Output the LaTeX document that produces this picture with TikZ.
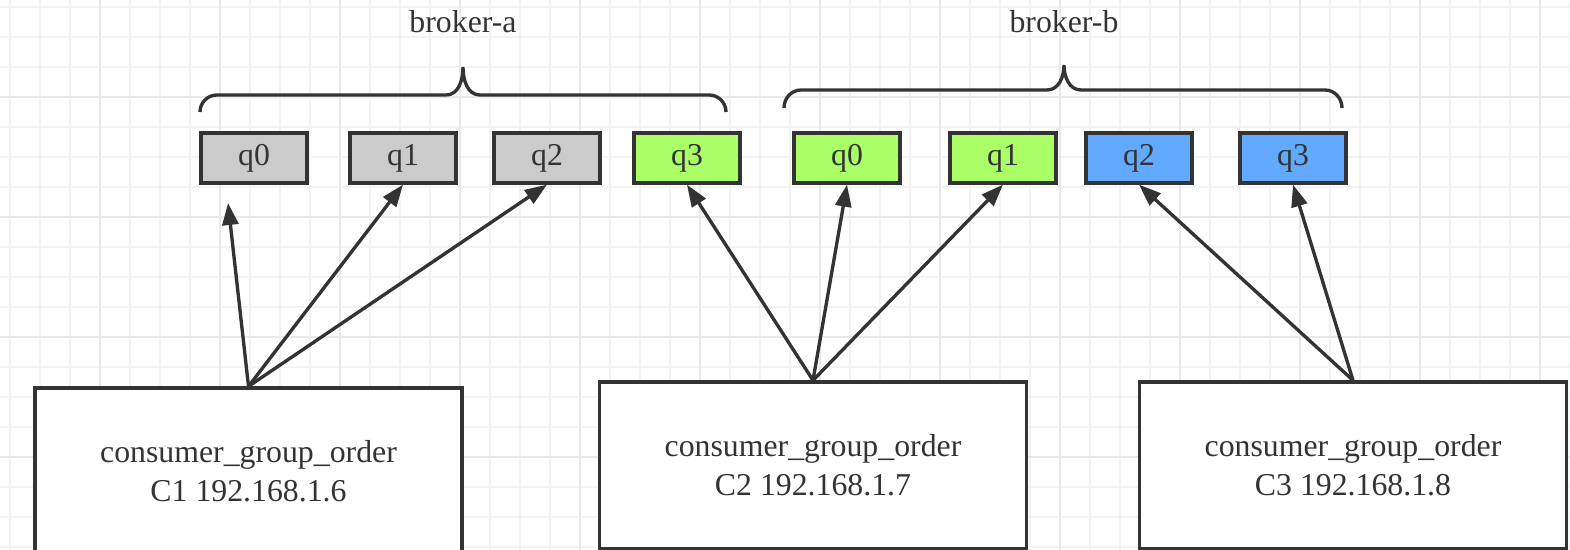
\documentclass[tikz,border=0pt]{standalone}
\usepackage{fontspec}
\setmainfont{Liberation Serif}
\usetikzlibrary{positioning, arrows.meta}

\definecolor{linegray}{HTML}{333333}
\definecolor{qgray}{HTML}{CBCBCB}
\definecolor{qgreen}{HTML}{AAFF66}
\definecolor{qblue}{HTML}{62AAFF}
\definecolor{gridminor}{HTML}{F3F3F3}
\definecolor{gridmajor}{HTML}{E8E8E8}

\newcommand{\diagfont}{\fontsize{18.1}{22}\selectfont}

\begin{document}
\begin{tikzpicture}[x=0.02cm, y=-0.02cm,
    queue/.style={rectangle, draw=linegray, line width=1.9pt, minimum width=2.12cm,
                  minimum height=1cm, inner sep=0pt, font=\diagfont, text=linegray},
    consumer/.style={rectangle, draw=linegray, fill=white, line width=1.9pt, minimum width=8.54cm,
                     minimum height=3.34cm, align=center, font=\diagfont, text=linegray},
    arrow/.style={-{Triangle[length=0.44cm, width=0.32cm]}, line width=1.9pt, draw=linegray},
    bracket/.style={line width=1.9pt, draw=linegray},
    gridline/.style={line width=0.8pt}
]

    \useasboundingbox (0,0) rectangle (1570,550);
    \clip (0,0) rectangle (1570,550);

    % Background grid
    \foreach \x in {10,40,...,1570} \draw[gridline, gridminor] (\x,0) -- (\x,550);
    \foreach \y in {7,37,...,550} \draw[gridline, gridminor] (0,\y) -- (1570,\y);
    \foreach \x in {100,220,...,1570} \draw[gridline, gridmajor] (\x,0) -- (\x,550);
    \foreach \y in {97,217,...,550} \draw[gridline, gridmajor] (0,\y) -- (1570,\y);

    % Brokers
    \node[font=\diagfont, text=linegray] (brokera) at (463,22) {broker-a};
    \node[font=\diagfont, text=linegray] (brokerb) at (1064,22) {broker-b};
    \draw[bracket] (200,112) to[out=90, in=180] (217,95) -- (446,95)
        to[out=0, in=-90] (463,67) to[out=-90, in=180] (480,95) -- (709,95)
        to[out=0, in=90] (726,112);
    \draw[bracket] (784,108) to[out=90, in=180] (801,90) -- (1047,90)
        to[out=0, in=-90] (1064,65) to[out=-90, in=180] (1081,90) -- (1325,90)
        to[out=0, in=90] (1342,108);

    % Queues of broker-a
    \node[queue, fill=qgray] (aq0) at (254,158) {q0};
    \node[queue, fill=qgray] (aq1) at (403,158) {q1};
    \node[queue, fill=qgray] (aq2) at (547,158) {q2};
    \node[queue, fill=qgreen] (aq3) at (687,158) {q3};

    % Queues of broker-b
    \node[queue, fill=qgreen] (bq0) at (847,158) {q0};
    \node[queue, fill=qgreen] (bq1) at (1003,158) {q1};
    \node[queue, fill=qblue] (bq2) at (1139,158) {q2};
    \node[queue, fill=qblue] (bq3) at (1293,158) {q3};

    % Consumers
    \node[consumer] (c1) at (248.5,471.5) {consumer\_group\_order\\C1 192.168.1.6};
    \node[consumer] (c2) at (813,465.5) {consumer\_group\_order\\C2 192.168.1.7};
    \node[consumer] (c3) at (1353,465.5) {consumer\_group\_order\\C3 192.168.1.8};

    % Arrows
    \coordinate (aq0end) at (228,203);
    \draw[arrow] (c1.north) -- (aq0end);
    \draw[arrow] (c1.north) -- (aq1.south);
    \draw[arrow] (c1.north) -- (aq2.south);
    \draw[arrow] (c2.north) -- (aq3.south);
    \draw[arrow] (c2.north) -- (bq0.south);
    \draw[arrow] (c2.north) -- (bq1.south);
    \draw[arrow] (c3.north) -- (bq2.south);
    \draw[arrow] (c3.north) -- (bq3.south);

\end{tikzpicture}
\end{document}
